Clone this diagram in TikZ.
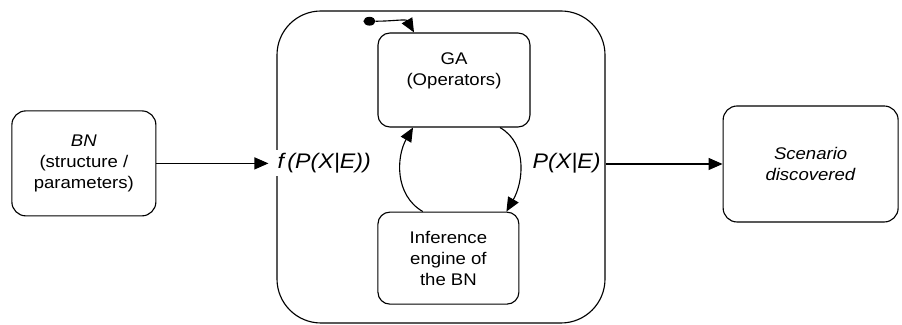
\documentclass[tikz,border=0pt]{standalone}
\usepackage{fontspec}
\setmainfont{Liberation Sans}[FakeStretch=1.1]
\usetikzlibrary{positioning,arrows.meta,shapes.geometric}

\begin{document}
\begin{tikzpicture}[>={Triangle[length=3.5mm,width=3mm]},
	block/.style={draw,thick,rounded corners=0.35cm,align=center,font=\fontsize{12}{15}\selectfont},
	tag/.style={font=\fontsize{15}{18}\selectfont\itshape,inner sep=2pt}]
	\useasboundingbox (0,0) rectangle (22.55,8.125);
	\node[draw,thick,rounded corners=1.1cm,minimum width=8.2cm,minimum height=7.8cm](big) at (11.025,3.95){};
	\node[block,minimum width=3.6cm,minimum height=2.625cm](bn)[left=3cm of big,yshift=0.09cm]{\textit{BN}\\(structure /\\parameters)};
	\node[block,minimum width=4.375cm,minimum height=2.9cm](scen)[right=2.925cm of big,yshift=0.075cm]{\textit{Scenario}\\\textit{discovered}};
	\node[block,rounded corners=0.3cm,minimum width=3.8cm,minimum height=2.35cm](ga)[below=0.55cm of big.north,xshift=0.325cm]{GA\\(Operators)\\\mbox{}};
	\node[block,rounded corners=0.3cm,minimum width=3.525cm,minimum height=2.3cm](inf)[below=2.1cm of ga,xshift=-0.14cm]{Inference\\engine of\\the BN};
	\node[tag,fill=white](fx)[right=-0.05cm of big.west,yshift=0.1cm]{f\,(P(X|E))};
	\node[tag](px)[left=0.05cm of big.east,yshift=0.1cm]{P(X|E)};
	\node[ellipse,fill,inner sep=0,minimum width=0.3cm,minimum height=0.22cm](init) at ([xshift=-0.2cm,yshift=0.28cm]ga.north west){};
	\path[->,thick](bn) edge[shorten >=0.2cm] (bn -| big.west);
	\path[->,thick](scen -| big.east) edge (scen);
	\path[->,thick]([xshift=-0.64cm]inf.north) edge[out=150,in=-120] ([xshift=-1.025cm]ga.south);
	\path[->,thick]([xshift=1.15cm]ga.south) edge[out=-30,in=60] ([xshift=1.45cm]inf.north);
	\path[->,thick](init) edge[out=0,in=120] ([xshift=-1cm]ga.north);
\end{tikzpicture}
\end{document}
